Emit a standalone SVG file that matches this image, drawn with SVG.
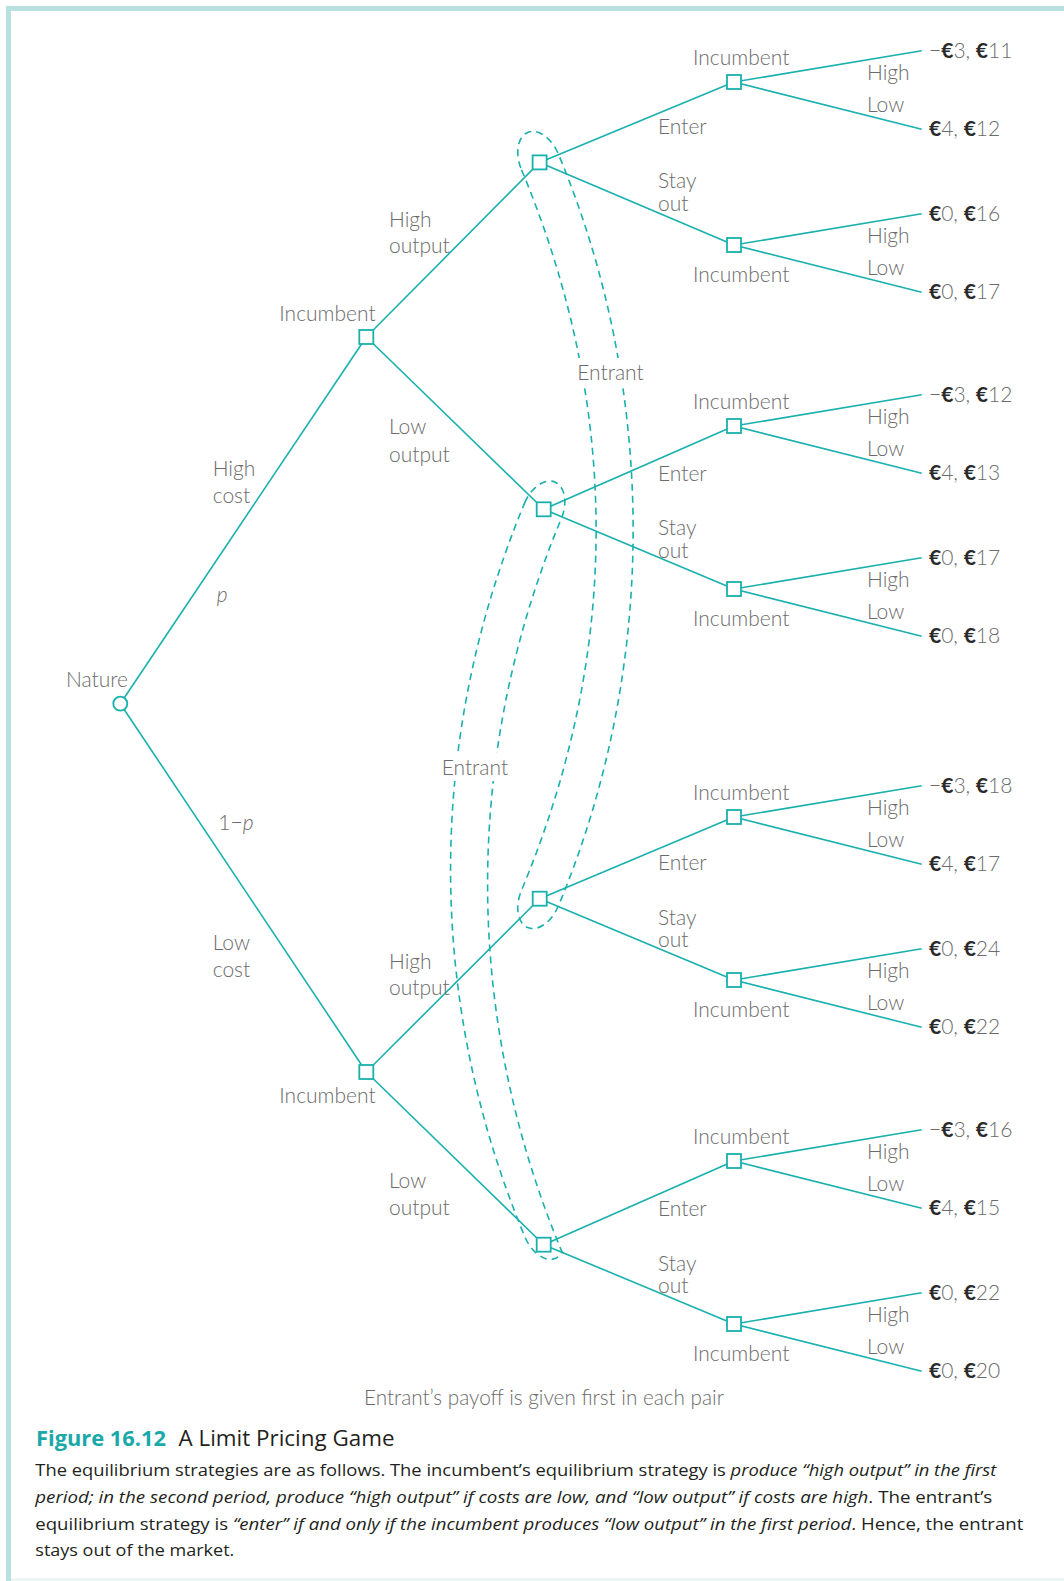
<svg xmlns="http://www.w3.org/2000/svg" width="1064" height="1581" viewBox="0 0 1064 1581">
<style>
.ln{stroke:#19b0ad;stroke-width:1.6;fill:none}
.nd{stroke:#19b0ad;stroke-width:1.8;fill:#fff}
.info{stroke:#19b0ad;stroke-width:1.6;fill:none;stroke-dasharray:7 5}
.t{font-family:Lato,"Open Sans","Liberation Sans",sans-serif;font-weight:300;font-size:21px;fill:#6b6b6b}
.pay{font-family:Lato,"Open Sans","Liberation Sans",sans-serif;font-weight:300;font-size:21px;fill:#6b6b6b}
.eu{font-weight:700;fill:#2a2a2a}
.it{font-style:italic}
.cap{font-family:"Open Sans","Noto Sans","Liberation Sans",sans-serif;font-size:16.5px;fill:#231f20}
</style>
<rect x="0" y="0" width="1064" height="1581" fill="#fff"/>
<rect x="6" y="6" width="1058" height="5" fill="#b9e1e0"/>
<rect x="6" y="6" width="5" height="1575" fill="#b9e1e0"/>
<rect x="11" y="1578" width="1053" height="3" fill="#eef5f5"/>

<g id="connectors">
<line class="ln" x1="120.3" y1="703.7" x2="366.3" y2="337"/>
<line class="ln" x1="120.3" y1="703.7" x2="366.3" y2="1072"/>
<line class="ln" x1="366.3" y1="337" x2="539.6" y2="162.4"/>
<line class="ln" x1="366.3" y1="337" x2="543.7" y2="509.3"/>
<line class="ln" x1="366.3" y1="1072" x2="539.7" y2="898.7"/>
<line class="ln" x1="366.3" y1="1072" x2="543.7" y2="1244.7"/>
<line class="ln" x1="539.6" y1="162.4" x2="734" y2="82"/>
<line class="ln" x1="539.6" y1="162.4" x2="734" y2="245"/>
<line class="ln" x1="543.7" y1="509.3" x2="734" y2="426"/>
<line class="ln" x1="543.7" y1="509.3" x2="734" y2="589"/>
<line class="ln" x1="539.7" y1="898.7" x2="734" y2="817"/>
<line class="ln" x1="539.7" y1="898.7" x2="734" y2="980"/>
<line class="ln" x1="543.7" y1="1244.7" x2="734" y2="1161"/>
<line class="ln" x1="543.7" y1="1244.7" x2="734" y2="1324"/>
<line class="ln" x1="734" y1="82" x2="921.7" y2="50.7"/>
<line class="ln" x1="734" y1="82" x2="921.7" y2="129.3"/>
<line class="ln" x1="734" y1="245" x2="921.7" y2="213.7"/>
<line class="ln" x1="734" y1="245" x2="921.7" y2="292.3"/>
<line class="ln" x1="734" y1="426" x2="921.7" y2="394.7"/>
<line class="ln" x1="734" y1="426" x2="921.7" y2="473.3"/>
<line class="ln" x1="734" y1="589" x2="921.7" y2="557.7"/>
<line class="ln" x1="734" y1="589" x2="921.7" y2="636.3"/>
<line class="ln" x1="734" y1="817" x2="921.7" y2="785.7"/>
<line class="ln" x1="734" y1="817" x2="921.7" y2="864.3"/>
<line class="ln" x1="734" y1="980" x2="921.7" y2="948.7"/>
<line class="ln" x1="734" y1="980" x2="921.7" y2="1027.3"/>
<line class="ln" x1="734" y1="1161" x2="921.7" y2="1129.7"/>
<line class="ln" x1="734" y1="1161" x2="921.7" y2="1208.3"/>
<line class="ln" x1="734" y1="1324" x2="921.7" y2="1292.7"/>
<line class="ln" x1="734" y1="1324" x2="921.7" y2="1371.3"/>
</g>

<g id="info-sets">
<path id="infoset-high" class="info" d="M521.5,169.7 C621,407.7 621,652.3 521.5,890.3 A20 32 22.6 0 0 558.5,905.7 C658,667.7 658,392.3 558.5,154.3 A20 32 -22.6 0 0 521.5,169.7 Z"/>
<path id="infoset-low" class="info" d="M525.2,501.6 C425.7,739.6 425.7,999.6 525.2,1237.6 A20 32 -22.6 0 0 562.2,1252.4 C462.7,1014.4 462.7,754.4 562.2,516.4 A20 32 22.6 0 0 525.2,501.6 Z"/>
</g>

<g id="nature"><circle class="nd" cx="120.3" cy="703.7" r="7"/><text class="t" x="66" y="687.3">Nature</text></g>
<g id="inc-high"><rect class="nd" x="359.3" y="330" width="14" height="14"/><text class="t" x="279.3" y="321">Incumbent</text></g>
<g id="inc-low"><rect class="nd" x="359.3" y="1065" width="14" height="14"/><text class="t" x="279.3" y="1102.7">Incumbent</text></g>
<g id="ent-1"><rect class="nd" x="532.6" y="155.4" width="14" height="14"/></g>
<g id="ent-2"><rect class="nd" x="536.7" y="502.3" width="14" height="14"/></g>
<g id="ent-3"><rect class="nd" x="532.7" y="891.7" width="14" height="14"/></g>
<g id="ent-4"><rect class="nd" x="536.7" y="1237.7" width="14" height="14"/></g>
<g id="inc2-1"><rect class="nd" x="727" y="75" width="14" height="14"/></g>
<g id="inc2-2"><rect class="nd" x="727" y="238" width="14" height="14"/></g>
<g id="inc2-3"><rect class="nd" x="727" y="419" width="14" height="14"/></g>
<g id="inc2-4"><rect class="nd" x="727" y="582" width="14" height="14"/></g>
<g id="inc2-5"><rect class="nd" x="727" y="810" width="14" height="14"/></g>
<g id="inc2-6"><rect class="nd" x="727" y="973" width="14" height="14"/></g>
<g id="inc2-7"><rect class="nd" x="727" y="1154" width="14" height="14"/></g>
<g id="inc2-8"><rect class="nd" x="727" y="1317" width="14" height="14"/></g>

<g id="labels-left">
<text class="t" x="212.7" y="476">High</text><text class="t" x="212.7" y="502.7">cost</text>
<text class="t it" x="216.7" y="602">p</text>
<text class="t" x="218.3" y="830">1−<tspan class="it">p</tspan></text>
<text class="t" x="212.7" y="950">Low</text><text class="t" x="212.7" y="976.7">cost</text>
<text class="t" x="389" y="226.7">High</text><text class="t" x="389" y="253.3">output</text>
<text class="t" x="389" y="434.3">Low</text><text class="t" x="389" y="461.7">output</text>
<text class="t" x="389" y="969">High</text><text class="t" x="389" y="995">output</text>
<text class="t" x="389" y="1187.5">Low</text><text class="t" x="389" y="1214.5">output</text>
</g>
<g id="entrant-labels">
<rect x="571" y="358" width="76" height="28" fill="#fff"/>
<text class="t" x="577.3" y="380">Entrant</text>
<rect x="436" y="753" width="76" height="28" fill="#fff"/>
<text class="t" x="441.7" y="775">Entrant</text>
</g>

<g id="labels-entrant-moves">
<text class="t" x="658" y="134">Enter</text><text class="t" x="658" y="188.4">Stay</text><text class="t" x="658" y="211">out</text>
<text class="t" x="658" y="480.8">Enter</text><text class="t" x="658" y="535.3">Stay</text><text class="t" x="658" y="557.9">out</text>
<text class="t" x="658" y="870.2">Enter</text><text class="t" x="658" y="924.7">Stay</text><text class="t" x="658" y="947.3">out</text>
<text class="t" x="658" y="1216.2">Enter</text><text class="t" x="658" y="1270.7">Stay</text><text class="t" x="658" y="1293.3">out</text>
</g>

<g id="labels-incumbent2">
<text class="t" x="693" y="65">Incumbent</text><text class="t" x="693" y="282">Incumbent</text>
<text class="t" x="693" y="409">Incumbent</text><text class="t" x="693" y="626">Incumbent</text>
<text class="t" x="693" y="800">Incumbent</text><text class="t" x="693" y="1017">Incumbent</text>
<text class="t" x="693" y="1144">Incumbent</text><text class="t" x="693" y="1361">Incumbent</text>
<text class="t" x="867" y="80">High</text><text class="t" x="867" y="111.7">Low</text>
<text class="t" x="867" y="243">High</text><text class="t" x="867" y="274.7">Low</text>
<text class="t" x="867" y="424">High</text><text class="t" x="867" y="455.7">Low</text>
<text class="t" x="867" y="587">High</text><text class="t" x="867" y="618.7">Low</text>
<text class="t" x="867" y="815">High</text><text class="t" x="867" y="846.7">Low</text>
<text class="t" x="867" y="978">High</text><text class="t" x="867" y="1009.7">Low</text>
<text class="t" x="867" y="1159">High</text><text class="t" x="867" y="1190.7">Low</text>
<text class="t" x="867" y="1322">High</text><text class="t" x="867" y="1353.7">Low</text>
</g>

<g id="payoffs">
<text class="pay" x="929" y="57.7">−<tspan class="eu">€</tspan>3, <tspan class="eu">€</tspan>11</text>
<text class="pay" x="929" y="136.3"><tspan class="eu">€</tspan>4, <tspan class="eu">€</tspan>12</text>
<text class="pay" x="929" y="220.7"><tspan class="eu">€</tspan>0, <tspan class="eu">€</tspan>16</text>
<text class="pay" x="929" y="299.3"><tspan class="eu">€</tspan>0, <tspan class="eu">€</tspan>17</text>
<text class="pay" x="929" y="401.7">−<tspan class="eu">€</tspan>3, <tspan class="eu">€</tspan>12</text>
<text class="pay" x="929" y="480.3"><tspan class="eu">€</tspan>4, <tspan class="eu">€</tspan>13</text>
<text class="pay" x="929" y="564.7"><tspan class="eu">€</tspan>0, <tspan class="eu">€</tspan>17</text>
<text class="pay" x="929" y="643.3"><tspan class="eu">€</tspan>0, <tspan class="eu">€</tspan>18</text>
<text class="pay" x="929" y="792.7">−<tspan class="eu">€</tspan>3, <tspan class="eu">€</tspan>18</text>
<text class="pay" x="929" y="871.3"><tspan class="eu">€</tspan>4, <tspan class="eu">€</tspan>17</text>
<text class="pay" x="929" y="955.7"><tspan class="eu">€</tspan>0, <tspan class="eu">€</tspan>24</text>
<text class="pay" x="929" y="1034.3"><tspan class="eu">€</tspan>0, <tspan class="eu">€</tspan>22</text>
<text class="pay" x="929" y="1136.7">−<tspan class="eu">€</tspan>3, <tspan class="eu">€</tspan>16</text>
<text class="pay" x="929" y="1215.3"><tspan class="eu">€</tspan>4, <tspan class="eu">€</tspan>15</text>
<text class="pay" x="929" y="1299.7"><tspan class="eu">€</tspan>0, <tspan class="eu">€</tspan>22</text>
<text class="pay" x="929" y="1378.3"><tspan class="eu">€</tspan>0, <tspan class="eu">€</tspan>20</text>
</g>

<g id="caption">
<text class="t" x="364" y="1405" font-size="20" textLength="360" lengthAdjust="spacingAndGlyphs">Entrant’s payoff is given first in each pair</text>
<text x="36" y="1446" font-family="'Open Sans','Noto Sans',sans-serif" font-size="21" font-weight="700" fill="#1aa9a8" textLength="130" lengthAdjust="spacingAndGlyphs">Figure 16.12</text>
<text x="178.5" y="1446" font-family="'Open Sans','Noto Sans',sans-serif" font-size="21" fill="#231f20" textLength="216" lengthAdjust="spacingAndGlyphs">A Limit Pricing Game</text>
<text class="cap" x="35.3" y="1475.7" textLength="961" lengthAdjust="spacingAndGlyphs">The equilibrium strategies are as follows. The incumbent’s equilibrium strategy is <tspan class="it">produce “high output” in the first</tspan></text>
<text class="cap" x="35.3" y="1503.3" textLength="957" lengthAdjust="spacingAndGlyphs"><tspan class="it">period; in the second period, produce “high output” if costs are low, and “low output” if costs are high</tspan>. The entrant’s</text>
<text class="cap" x="35.3" y="1530" textLength="988" lengthAdjust="spacingAndGlyphs">equilibrium strategy is <tspan class="it">“enter” if and only if the incumbent produces “low output” in the first period</tspan>. Hence, the entrant</text>
<text class="cap" x="35.3" y="1555.7" textLength="199" lengthAdjust="spacingAndGlyphs">stays out of the market.</text>
</g>
</svg>
